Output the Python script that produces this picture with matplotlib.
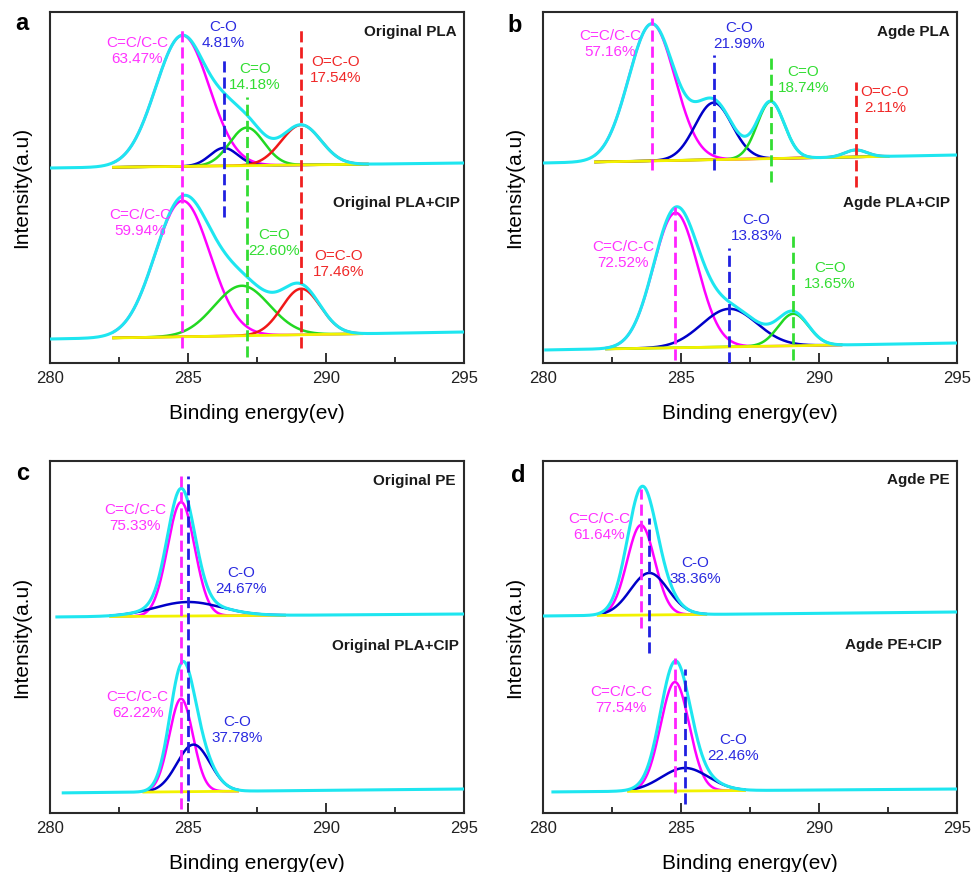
import numpy as np
import matplotlib
matplotlib.use("Agg")
import matplotlib.pyplot as plt

plt.rcParams['font.family'] = ['Liberation Sans', 'DejaVu Sans']

# ---------------- data ----------------
x_ticks = [280, 285, 290, 295]
panel_letters = ["a", "b", "c", "d"]
sample_names = [["Original PLA", "Original PLA+CIP"],
                ["Agde PLA", "Agde PLA+CIP"],
                ["Original PE", "Original PLA+CIP"],
                ["Agde PE", "Agde PE+CIP"]]

# each spectrum: component names, peak centre (eV), peak height (a.u.), peak sigma (eV), area share
a_top_comp = ["C=C/C-C", "C-O", "C=O", "O=C-O"]
a_top_center = [284.8, 286.3, 287.13, 289.1]
a_top_height = [131, 18, 38, 40]
a_top_sigma = [0.97, 0.5, 0.62, 0.72]
a_top_pct = ["63.47%", "4.81%", "14.18%", "17.54%"]
a_top_base = [195, 200]          # background at 280 and 295 eV

a_bot_comp = ["C=C/C-C", "C=O", "O=C-O"]
a_bot_center = [284.8, 286.95, 289.1]
a_bot_height = [136, 50, 46]
a_bot_sigma = [1.0, 1.0, 0.7]
a_bot_pct = ["59.94%", "22.60%", "17.46%"]
a_bot_base = [24, 31]

b_top_comp = ["C=C/C-C", "C-O", "C=O", "O=C-O"]
b_top_center = [283.94, 286.18, 288.25, 291.33]
b_top_height = [137, 57, 57, 7]
b_top_sigma = [0.84, 0.67, 0.49, 0.4]
b_top_pct = ["57.16%", "21.99%", "18.74%", "2.11%"]
b_top_base = [200, 208]

b_bot_comp = ["C=C/C-C", "C-O", "C=O"]
b_bot_center = [284.8, 286.75, 289.07]
b_bot_height = [135, 38, 32]
b_bot_sigma = [0.8, 1.0, 0.55]
b_bot_pct = ["72.52%", "13.83%", "13.65%"]
b_bot_base = [13, 20]

c_top_comp = ["C=C/C-C", "C-O"]
c_top_center = [284.75, 285.0]
c_top_height = [114, 14]
c_top_sigma = [0.49, 1.2]
c_top_pct = ["75.33%", "24.67%"]
c_top_base = [196, 199]

c_bot_comp = ["C=C/C-C", "C-O"]
c_bot_center = [284.75, 285.2]
c_bot_height = [93, 47]
c_bot_sigma = [0.43, 0.6]
c_bot_pct = ["62.22%", "37.78%"]
c_bot_base = [20, 24]

d_top_comp = ["C=C/C-C", "C-O"]
d_top_center = [283.55, 283.85]
d_top_height = [90, 42]
d_top_sigma = [0.5, 0.68]
d_top_pct = ["61.64%", "38.36%"]
d_top_base = [197, 201]

d_bot_comp = ["C=C/C-C", "C-O"]
d_bot_center = [284.78, 285.14]
d_bot_height = [109, 23]
d_bot_sigma = [0.52, 0.85]
d_bot_pct = ["77.54%", "22.46%"]
d_bot_base = [21, 24]

# ---------------- styles ----------------
curve_col = {"C=C/C-C": "#FF00FF", "C-O": "#0000C8", "C=O": "#22D822", "O=C-O": "#F01818"}
dash_col = {"C=C/C-C": "#FF22FF", "C-O": "#2020E0", "C=O": "#33DD33", "O=C-O": "#F02020"}
text_col = {"C=C/C-C": "#FF33FF", "C-O": "#2A2AE0", "C=O": "#33DD33", "O=C-O": "#F02828"}
ENV = "#1EE6F0"
BASE = "#F2F200"

# ---------------- layout (pixels of the 971x872 figure) ----------------
W, H = 971, 872
ax_px = [(50, 12, 464, 363), (543, 12, 957, 363), (50, 461, 464, 813), (543, 461, 957, 813)]

spectra = [
    # panel, comp, centre, height, sigma, pct, base, envelope start, component range,
    # dashed (index, y0, y1), label positions (x, y)
    (0, a_top_comp, a_top_center, a_top_height, a_top_sigma, a_top_pct, a_top_base, 280.0, (282.3, 291.5),
     [(0, 15, 336), (1, 146, 303), (2, 6, 266), (3, 15, 336)],
     [(283.15, 312), (286.26, 328), (287.43, 286), (290.36, 293)]),
    (0, a_bot_comp, a_bot_center, a_bot_height, a_bot_sigma, a_bot_pct, a_bot_base, 280.0, (282.3, 291.3),
     [],
     [(283.26, 140), (288.12, 120), (290.45, 99)]),
    (1, b_top_comp, b_top_center, b_top_height, b_top_sigma, b_top_pct, b_top_base, 280.0, (281.9, 292.5),
     [(0, 193, 345), (1, 193, 308), (2, 181, 308), (3, 176, 281)],
     [(282.43, 319), (287.1, 327), (289.43, 283), (292.39, 263)]),
    (1, b_bot_comp, b_bot_center, b_bot_height, b_bot_sigma, b_bot_pct, b_bot_base, 280.1, (282.3, 290.8),
     [(0, 3, 156), (1, 0, 115), (2, 3, 131)],
     [(282.91, 108), (287.74, 135), (290.4, 87)]),
    (2, c_top_comp, c_top_center, c_top_height, c_top_sigma, c_top_pct, c_top_base, 280.25, (282.2, 288.5),
     [(0, 4, 337), (1, 12, 337)],
     [(283.08, 295), (286.91, 232)]),
    (2, c_bot_comp, c_bot_center, c_bot_height, c_bot_sigma, c_bot_pct, c_bot_base, 280.48, (283.4, 286.8),
     [],
     [(283.18, 108), (286.79, 83)]),
    (3, d_top_comp, d_top_center, d_top_height, d_top_sigma, d_top_pct, d_top_base, 280.0, (282.0, 285.9),
     [(0, 185, 324), (1, 160, 295)],
     [(282.04, 286), (285.53, 242)]),
    (3, d_bot_comp, d_bot_center, d_bot_height, d_bot_sigma, d_bot_pct, d_bot_base, 280.36, (283.1, 287.3),
     [(0, 20, 155), (1, 9, 144)],
     [(282.83, 113), (286.9, 65)]),
]
name_pos = [[(294.75, 331), (294.86, 160)], [(294.75, 331), (294.75, 160)],
            [(294.71, 332), (294.82, 167)], [(294.75, 333), (294.46, 168)]]
letter_px = [(22, 23), (515, 26), (23, 473), (518, 475)]

fig = plt.figure(figsize=(W / 100, H / 100), dpi=100)
axes = []
for (l, t, r, b) in ax_px:
    ax = fig.add_axes([l / W, 1 - b / H, (r - l) / W, (b - t) / H])
    ax.set_xlim(280, 295)
    ax.set_ylim(0, b - t)
    ax.set_xticks(x_ticks)
    ax.set_xticks([282.5, 287.5, 292.5], minor=True)
    ax.set_yticks([])
    ax.tick_params(axis='x', which='major', direction='in', length=7, width=1.3,
                   labelsize=12, pad=6, colors='#222222')
    ax.tick_params(axis='x', which='minor', direction='in', length=4, width=1.3, colors='#222222')
    for s in ax.spines.values():
        s.set_linewidth(1.5)
        s.set_color('#2a2a2a')
    ax.set_xlabel("Binding energy(ev)", fontsize=15, labelpad=13)
    ax.set_ylabel("Intensity(a.u)", fontsize=15, va='center')
    ax.yaxis.set_label_coords(-28 / (r - l), 0.5)
    axes.append(ax)


def gauss(x, c, h, s):
    return h * np.exp(-0.5 * ((x - c) / s) ** 2)


for (p, comp, cen, hei, sig, pct, base, x0, crange, dashes, lpos) in spectra:
    ax = axes[p]
    x = np.linspace(x0, 295, 1500)
    bl = base[0] + (base[1] - base[0]) * (x - 280) / 15
    total = bl.copy()
    for c, h, s in zip(cen, hei, sig):
        total += gauss(x, c, h, s)
    xr = np.linspace(crange[0], crange[1], 800)
    blr = base[0] + (base[1] - base[0]) * (xr - 280) / 15
    for name, c, h, s in zip(comp, cen, hei, sig):
        ax.plot(xr, blr + gauss(xr, c, h, s), color=curve_col[name], lw=1.8, zorder=3)
    ax.plot(xr, blr, color=BASE, lw=2.0, zorder=3.5)
    ax.plot(x, total, color=ENV, lw=2.2, zorder=4)
    for (i, y0, y1) in dashes:
        ax.plot([cen[i], cen[i]], [y0, y1], color=dash_col[comp[i]], lw=2.0,
                dashes=(4, 1.8), zorder=5)
    for name, val, (tx, ty) in zip(comp, pct, lpos):
        ax.text(tx, ty, f"{name}\n{val}", color=text_col[name], fontsize=11,
                ha='center', va='center', linespacing=1.25, zorder=6)

for p in range(4):
    for k in range(2):
        tx, ty = name_pos[p][k]
        axes[p].text(tx, ty, sample_names[p][k], fontsize=11, fontweight='bold',
                     ha='right', va='center', color='#1a1a1a')
    lx, ly = letter_px[p]
    fig.text(lx / W, 1 - ly / H, panel_letters[p], fontsize=17, fontweight='bold',
             ha='center', va='center')

fig.savefig("out.png", dpi=100)
